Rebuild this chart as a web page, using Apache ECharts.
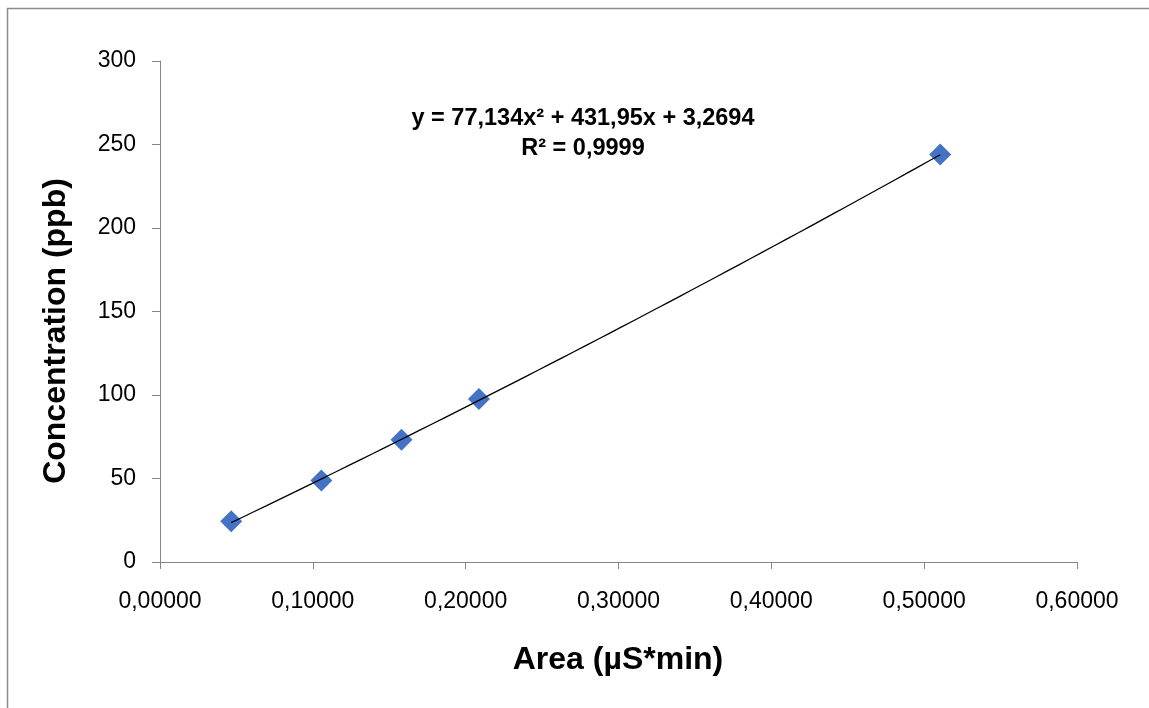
<!DOCTYPE html>
<html>
<head>
<meta charset="utf-8">
<title>Calibration curve</title>
<script src="https://cdn.jsdelivr.net/npm/echarts@6/dist/echarts.min.js"></script>
<style>
  html, body { margin: 0; padding: 0; background: #ffffff; }
  #chart { width: 1149px; height: 708px; }
</style>
</head>
<body>
<div id="chart"></div>
<script>
// Calibration standards: peak area (µS*min) vs. concentration (ppb)
const areaValues = [0.0466, 0.1056, 0.1580, 0.2087, 0.5105];
const concentrationValues = [24.4, 48.8, 73.2, 97.6, 244.0];

// Second-order polynomial trendline and its coefficient of determination
const fitA = 77.134;
const fitB = 431.95;
const fitC = 3.2694;
const fitR2 = 0.9999;

// Axis ranges
const xRange = [0, 0.6, 0.1];
const yRange = [0, 300, 50];

const decimalComma = (v, digits) => v.toFixed(digits).replace('.', ',');
const trimComma = v => String(v).replace('.', ',');

const points = areaValues.map((x, i) => [x, concentrationValues[i]]);

// Trendline evaluated from the fitted polynomial over the span of the standards
const xMin = Math.min(...areaValues);
const xMax = Math.max(...areaValues);
const steps = 60;
const trendLine = [];
for (let i = 0; i <= steps; i++) {
  const x = xMin + (xMax - xMin) * i / steps;
  trendLine.push([x, fitA * x * x + fitB * x + fitC]);
}

const equationText = 'y = ' + trimComma(fitA) + 'x² + ' + trimComma(fitB) + 'x + ' + trimComma(fitC);
const r2Text = 'R² = ' + decimalComma(fitR2, 4);

const axisGrey = '#868686';
const tickFont = { fontFamily: 'Liberation Sans', fontSize: 23, color: '#000000' };
const titleFont = 'bold 32px "Liberation Sans"';
const equationFont = 'bold 23.5px "Liberation Sans"';

const chart = echarts.init(document.getElementById('chart'), null, { renderer: 'canvas' });

chart.setOption({
  backgroundColor: '#ffffff',
  animation: false,
  grid: { left: 160, right: 72, top: 61, bottom: 146, containLabel: false },
  xAxis: {
    type: 'value',
    min: xRange[0], max: xRange[1], interval: xRange[2],
    axisLine: { show: true, onZero: false, lineStyle: { color: axisGrey, width: 1 } },
    axisTick: { show: true, inside: false, length: 7, lineStyle: { color: axisGrey } },
    axisLabel: Object.assign({ margin: 28, formatter: v => decimalComma(v, 5) }, tickFont),
    splitLine: { show: false }
  },
  yAxis: {
    type: 'value',
    min: yRange[0], max: yRange[1], interval: yRange[2],
    axisLine: { show: true, onZero: false, lineStyle: { color: axisGrey, width: 1 } },
    axisTick: { show: true, inside: false, length: 8, lineStyle: { color: axisGrey } },
    axisLabel: Object.assign({ margin: 24 }, tickFont),
    splitLine: { show: false }
  },
  series: [
    {
      name: 'Standards',
      type: 'scatter',
      data: points,
      symbol: 'diamond',
      symbolSize: 22,
      itemStyle: { color: '#4472C4', opacity: 1 },
      z: 2
    },
    {
      name: 'Poly. trendline',
      type: 'line',
      data: trendLine,
      showSymbol: false,
      smooth: false,
      lineStyle: { color: '#000000', width: 1.3 },
      z: 3
    }
  ],
  graphic: [
    {
      type: 'polyline',
      shape: { points: [[7.5, 708], [7.5, 8.5], [1149, 8.5]] },
      style: { stroke: '#8c8c8c', lineWidth: 1.5, fill: null },
      silent: true
    },
    {
      type: 'text',
      x: 583, y: 119,
      style: { text: equationText, font: equationFont, fill: '#000000', align: 'center', verticalAlign: 'middle' }
    },
    {
      type: 'text',
      x: 583, y: 149,
      style: { text: r2Text, font: equationFont, fill: '#000000', align: 'center', verticalAlign: 'middle' }
    },
    {
      type: 'text',
      x: 618, y: 660,
      style: { text: 'Area (µS*min)', font: titleFont, fill: '#000000', align: 'center', verticalAlign: 'middle' }
    },
    {
      type: 'text',
      x: 56, y: 331,
      rotation: Math.PI / 2,
      style: { text: 'Concentration (ppb)', font: titleFont, fill: '#000000', align: 'center', verticalAlign: 'middle' }
    }
  ]
});
</script>
</body>
</html>
